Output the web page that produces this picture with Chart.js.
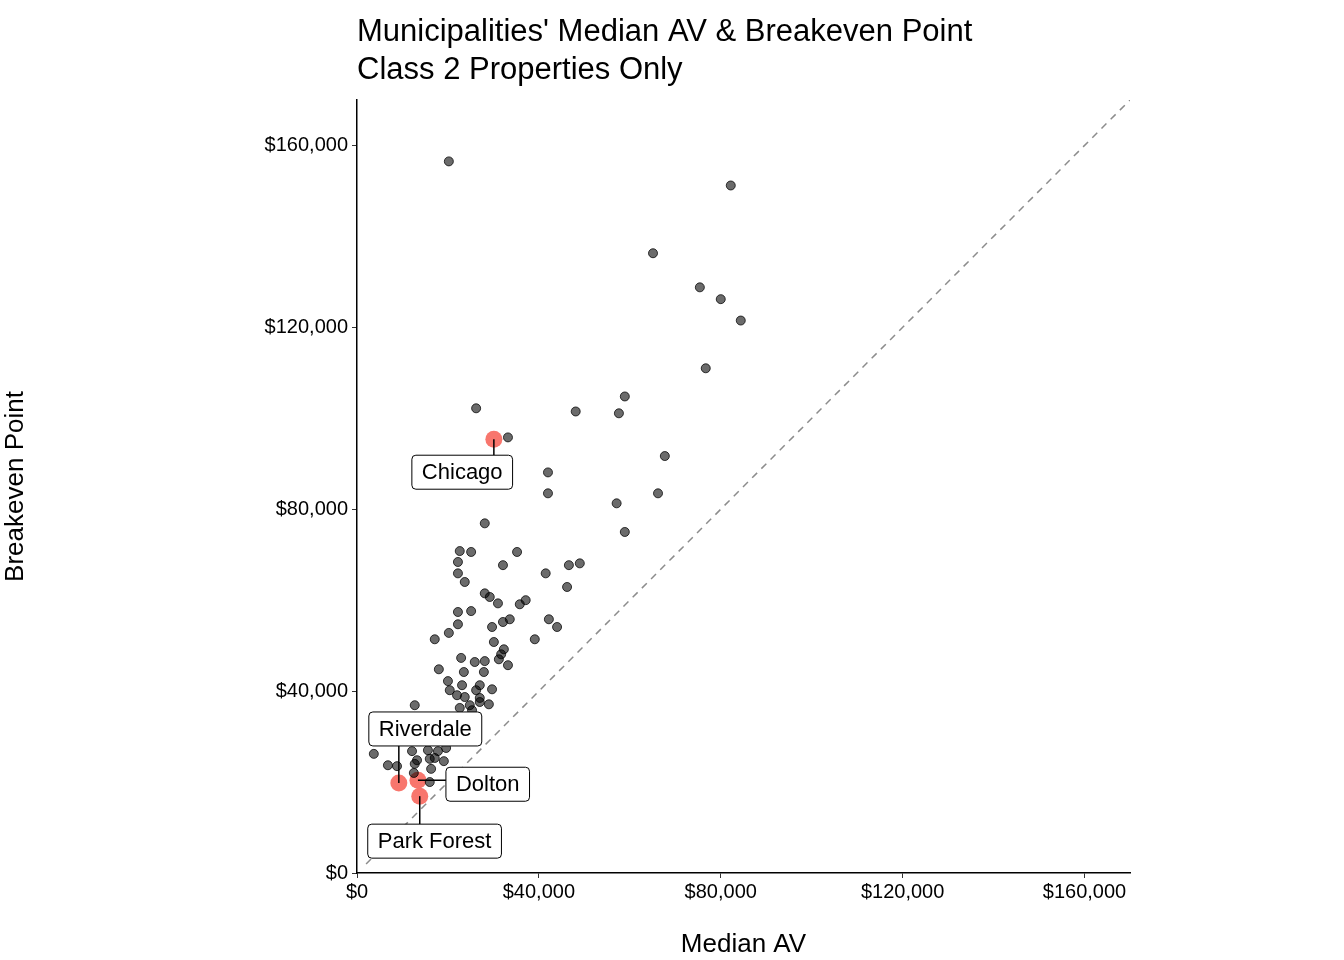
<!DOCTYPE html>
<html>
<head>
<meta charset="utf-8">
<script src="https://cdn.jsdelivr.net/npm/chart.js@4/dist/chart.umd.min.js"></script>
<style>
  body { margin: 0; background: #fff; }
</style>
</head>
<body>
<canvas id="c" width="1344" height="960" style="width:1344px;height:960px"></canvas>
<script>
// values in thousands of dollars
const medianAV = [20.2,82.2,65.1,75.4,80.0,84.4,76.7,58.9,26.2,48.1,57.6,33.2,42.0,67.7,42.0,57.1,66.2,58.9,28.1,
  22.6,25.1,35.2,22.2,32.1,46.6,49.0,22.2,41.5,23.7,46.2,28.1,29.2,31.0,35.8,37.1,22.2,25.1,22.2,17.1,20.2,29.7,
  32.1,33.6,42.2,44.0,39.1,30.1,32.3,31.7,31.2,22.9,25.9,28.1,18.0,23.5,27.9,33.2,20.0,20.4,23.1,22.0,23.7,27.0,
  26.2,29.7,27.0,24.8,27.0,29.0,22.6,25.3,12.7,3.7,6.8,8.8,12.1,15.6,17.8,19.6,16.0,17.1,19.1,12.7,16.3,16.0,13.2,12.5];
const breakeven = [156.5,151.2,136.3,128.8,126.2,121.5,111.0,104.8,102.2,101.5,101.1,95.8,88.1,91.7,83.5,81.3,83.5,75.0,76.9,
  70.8,70.6,70.6,68.4,67.7,67.7,68.1,65.9,65.9,64.0,62.9,61.5,60.7,59.3,59.1,60.0,57.4,57.6,54.7,51.4,52.8,54.1,
  55.2,55.8,55.8,54.1,51.4,50.8,49.2,48.1,47.0,47.3,46.4,46.6,44.8,44.2,44.2,45.7,42.2,40.2,41.3,39.1,38.7,41.3,
  40.2,40.4,38.5,36.9,37.6,37.1,36.3,35.8,36.9,26.2,23.7,23.5,26.8,27.0,26.8,27.5,25.1,25.3,24.6,24.0,22.9,20.0,24.8,22.0];
const highlightNames = ['Chicago','Riverdale','Dolton','Park Forest'];
const highlightAV = [30.1, 9.2, 13.4, 13.8];
const highlightBE = [95.4, 19.8, 20.4, 16.9];
const tickValues = [0, 40, 80, 120, 160];
// label box offsets in px (dx of box left, dy of box center) relative to point
const labelOffsets = [[-82, 33], [-30, -54], [28, 4], [-52, 45]];

const fmt = v => '$' + (v * 1000).toLocaleString('en-US');

const labelPlugin = {
  id: 'labels',
  afterDatasetsDraw(chart) {
    const ctx = chart.ctx, xs = chart.scales.x, ys = chart.scales.y;
    ctx.save();
    ctx.font = '22px "Liberation Sans", Arial, sans-serif';
    highlightNames.forEach((name, i) => {
      const px = xs.getPixelForValue(highlightAV[i]), py = ys.getPixelForValue(highlightBE[i]);
      const w = ctx.measureText(name).width + 20, h = 34;
      const bx = px + labelOffsets[i][0], by = py + labelOffsets[i][1] - h / 2;
      const cx = Math.max(bx, Math.min(px, bx + w)), cy = Math.max(by, Math.min(py, by + h));
      ctx.strokeStyle = '#000'; ctx.lineWidth = 1.5;
      ctx.beginPath(); ctx.moveTo(px, py); ctx.lineTo(cx, cy); ctx.stroke();
      ctx.fillStyle = '#fff'; ctx.lineWidth = 1;
      ctx.beginPath(); ctx.roundRect(bx, by, w, h, 4); ctx.fill(); ctx.stroke();
      ctx.fillStyle = '#000'; ctx.textBaseline = 'middle';
      ctx.fillText(name, bx + 10, by + h / 2 + 1);
    });
    ctx.font = '31px "Liberation Sans", Arial, sans-serif';
    ctx.textBaseline = 'alphabetic';
    ctx.fillText("Municipalities' Median AV & Breakeven Point", 357, 41);
    ctx.fillText('Class 2 Properties Only', 357, 79);
    ctx.restore();
  }
};

new Chart(document.getElementById('c'), {
  type: 'scatter',
  data: {
    datasets: [
      { type: 'line', data: [{x: 2, y: 2}, {x: 170, y: 170}], borderColor: '#8c8c8c', borderWidth: 1.5,
        borderDash: [7, 6], pointRadius: 0, fill: false },
      { data: medianAV.map((v, i) => ({x: v, y: breakeven[i]})), backgroundColor: 'rgba(0,0,0,0.58)',
        borderColor: 'rgba(0,0,0,0.75)', borderWidth: 1, pointRadius: 4.5 },
      { data: highlightAV.map((v, i) => ({x: v, y: highlightBE[i]})), backgroundColor: '#F8766D',
        borderWidth: 0, pointRadius: 8.5 }
    ]
  },
  options: {
    responsive: false, animation: false, devicePixelRatio: 1,
    layout: { padding: { top: 100, right: 214, left: 0, bottom: 0 } },
    plugins: { legend: { display: false }, tooltip: { enabled: false } },
    scales: {
      x: {
        type: 'linear', min: 0, max: 170,
        afterBuildTicks: s => { s.ticks = tickValues.map(v => ({value: v})); },
        afterFit: s => { s.height = 87; },
        border: { color: '#000', width: 1.5 },
        grid: { drawOnChartArea: false, color: '#333', tickLength: 5 },
        ticks: { color: '#000', font: { size: 20, family: '"Liberation Sans", Arial' }, padding: 2, callback: fmt, maxRotation: 0 },
        title: { display: true, text: 'Median AV', color: '#000', font: { size: 26, family: '"Liberation Sans", Arial' }, padding: 0 }
      },
      y: {
        type: 'linear', min: 0, max: 170,
        afterBuildTicks: s => { s.ticks = tickValues.map(v => ({value: v})); },
        afterFit: s => { s.width = 357; },
        border: { color: '#000', width: 1.5 },
        grid: { drawOnChartArea: false, color: '#333', tickLength: 5 },
        ticks: { color: '#000', font: { size: 20, family: '"Liberation Sans", Arial' }, padding: 4, callback: fmt },
        title: { display: true, text: 'Breakeven Point', color: '#000', font: { size: 26, family: '"Liberation Sans", Arial' }, padding: { top: 0, bottom: 10 } }
      }
    }
  },
  plugins: [labelPlugin]
});
</script>
</body>
</html>
